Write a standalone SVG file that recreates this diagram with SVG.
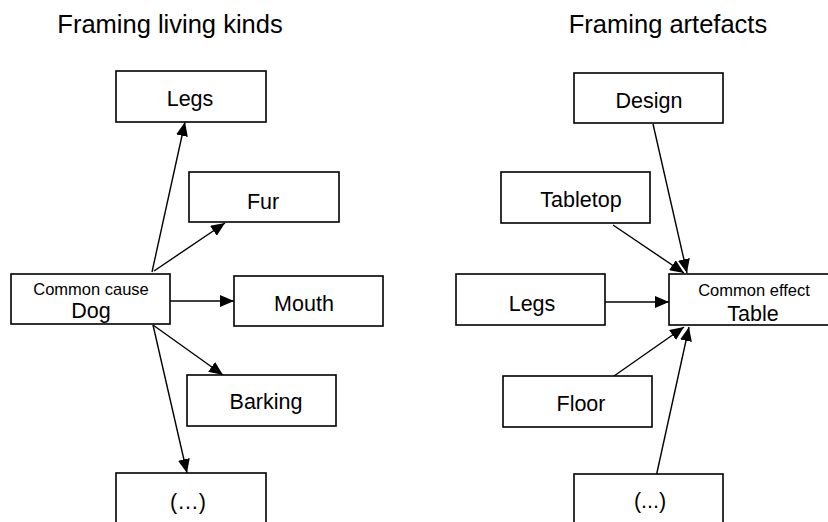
<svg xmlns="http://www.w3.org/2000/svg" width="828" height="522" viewBox="0 0 828 522">
<style>
.box{fill:#fff;stroke:#000;stroke-width:1.6}
text{font-family:"Liberation Sans",Arial,sans-serif;fill:#000;text-anchor:middle}
.t{font-size:21.5px}
.s{font-size:16.5px}
.h{font-size:25.5px}
.c line{stroke:#000;stroke-width:1.4;marker-end:url(#ah)}
</style>
<defs>
<marker id="ah" markerUnits="userSpaceOnUse" markerWidth="14" markerHeight="12" refX="14" refY="6" orient="auto">
<path d="M0,0 L14,6 L0,12 z" fill="#000"/>
</marker>
</defs>
<rect width="828" height="522" fill="#fff"/>
<text class="h" x="170" y="33">Framing living kinds</text>
<text class="h" x="668" y="33">Framing artefacts</text>

<g class="c" id="connectors">
<line x1="152" y1="272" x2="185" y2="122"/>
<line x1="154" y1="271" x2="225" y2="223"/>
<line x1="170" y1="301" x2="234" y2="301"/>
<line x1="153" y1="325" x2="223" y2="375"/>
<line x1="153" y1="325" x2="187" y2="473"/>
<line x1="653" y1="124" x2="687" y2="273"/>
<line x1="613" y1="225" x2="684" y2="273"/>
<line x1="605" y1="302" x2="669" y2="302"/>
<line x1="614" y1="376" x2="684" y2="327"/>
<line x1="656" y1="477" x2="689" y2="327"/>
</g>

<g id="dog"><rect class="box" x="11" y="274" width="159" height="50"/><text class="s" x="91" y="295">Common cause</text><text class="t" x="91" y="318">Dog</text></g>
<g id="legs-l"><rect class="box" x="116" y="71" width="150" height="51"/><text class="t" x="190" y="106">Legs</text></g>
<g id="fur"><rect class="box" x="189" y="172" width="150" height="50"/><text class="t" x="263" y="209">Fur</text></g>
<g id="mouth"><rect class="box" x="234" y="276" width="149" height="50"/><text class="t" x="304" y="311">Mouth</text></g>
<g id="barking"><rect class="box" x="187" y="375" width="149" height="51"/><text class="t" x="266" y="409">Barking</text></g>
<g id="etc-l"><rect class="box" x="116" y="473" width="150" height="60"/><text class="t" x="188" y="509">(…)</text></g>

<g id="table"><rect class="box" x="669" y="274" width="162" height="51"/><text class="s" x="754" y="296">Common effect</text><text class="t" x="753" y="321">Table</text></g>
<g id="design"><rect class="box" x="574" y="73" width="149" height="50"/><text class="t" x="649" y="108">Design</text></g>
<g id="tabletop"><rect class="box" x="501" y="172" width="149" height="51"/><text class="t" x="581" y="207">Tabletop</text></g>
<g id="legs-r"><rect class="box" x="456" y="274" width="149" height="51"/><text class="t" x="532" y="311">Legs</text></g>
<g id="floor"><rect class="box" x="503" y="376" width="149" height="51"/><text class="t" x="581" y="411">Floor</text></g>
<g id="etc-r"><rect class="box" x="574" y="474" width="149" height="60"/><text class="t" x="650" y="508">(...)</text></g>
</svg>
